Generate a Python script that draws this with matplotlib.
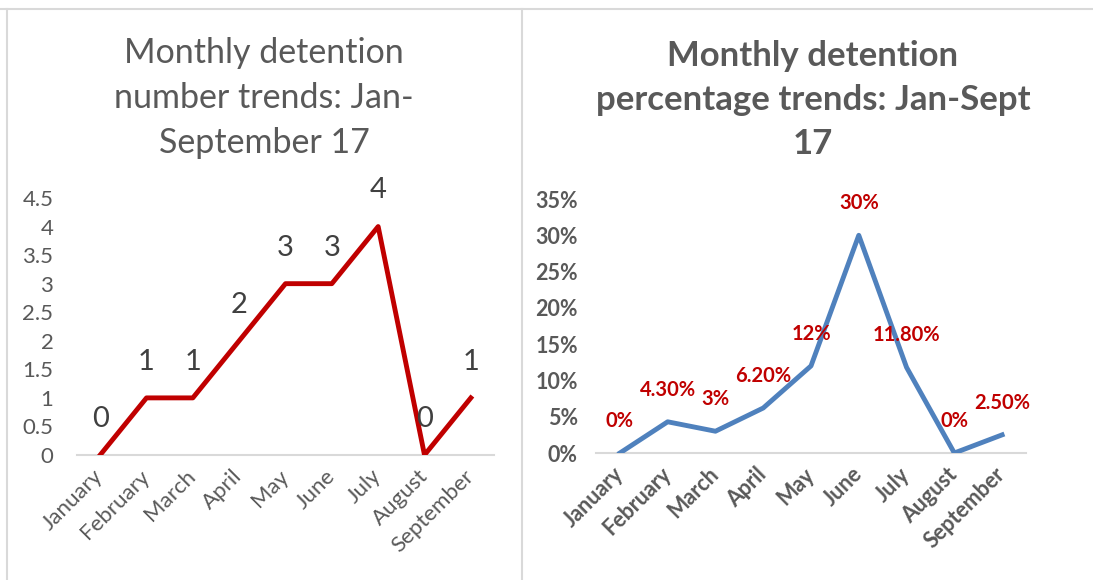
import matplotlib
matplotlib.use('Agg')
import matplotlib.pyplot as plt
from matplotlib.lines import Line2D
from matplotlib.ticker import FuncFormatter

plt.rcParams['font.family'] = ['Lato', 'DejaVu Sans']

months = ['January', 'February', 'March', 'April', 'May', 'June', 'July', 'August', 'September']
counts = [0, 1, 1, 2, 3, 3, 4, 0, 1]
percents = [0, 4.3, 3, 6.2, 12, 30, 11.8, 0, 2.5]
percent_labels = ['0%', '4.30%', '3%', '6.20%', '12%', '30%', '11.80%', '0%', '2.50%']
count_ticks = [0, 0.5, 1, 1.5, 2, 2.5, 3, 3.5, 4, 4.5]
percent_ticks = [0, 5, 10, 15, 20, 25, 30, 35]

grey = '#595959'
red = '#C00000'
blue = '#4F81BD'
border = '#D9D9D9'

fig = plt.figure(figsize=(10.93, 5.8), dpi=100)

# chart borders
fig.add_artist(Line2D([0, 1], [1 - 9 / 580, 1 - 9 / 580], color=border, lw=1.5))
fig.add_artist(Line2D([7 / 1093, 7 / 1093], [0, 1 - 9 / 580], color=border, lw=1.5))
fig.add_artist(Line2D([522 / 1093, 522 / 1093], [0, 1 - 9 / 580], color=border, lw=1.5))

x = list(range(len(months)))

# left chart
ax1 = fig.add_axes([77 / 1093, 1 - 455 / 580, 417 / 1093, 257 / 580])
ax1.plot(x, counts, color=red, lw=3.5)
for i, v in enumerate(counts):
    ax1.annotate(str(v), (i, v), xytext=(0, 26), textcoords='offset points',
                 ha='center', va='center', fontsize=21, color='#404040')
ax1.set_xlim(-0.5, len(months) - 0.5)
ax1.set_ylim(0, 4.5)
ax1.set_yticks(count_ticks)
ax1.set_yticklabels([('%g' % t) for t in count_ticks])
ax1.set_xticks(x)
ax1.set_xticklabels(months, rotation=45, ha='right', va='center', rotation_mode='anchor')
ax1.tick_params(axis='both', length=0, colors=grey, labelsize=16)
ax1.tick_params(axis='x', pad=13)
ax1.tick_params(axis='y', pad=17)
for s in ['top', 'right', 'left']:
    ax1.spines[s].set_visible(False)
ax1.spines['bottom'].set_color(border)
ax1.spines['bottom'].set_linewidth(1.5)
ax1.spines['bottom'].set_zorder(0)
fig.text(264 / 1093, 1 - 98 / 580, 'Monthly detention\nnumber trends: Jan-\nSeptember 17',
         ha='center', va='center', fontsize=24.5, color=grey, linespacing=1.5)

# right chart
ax2 = fig.add_axes([596 / 1093, 1 - 453 / 580, 430 / 1093, 254 / 580])
ax2.plot(x, percents, color=blue, lw=3.5)
for i, v in enumerate(percents):
    ax2.annotate(percent_labels[i], (i, v), xytext=(0, 23), textcoords='offset points',
                 ha='center', va='center', fontsize=14.5, color=red, fontweight='bold')
ax2.set_xlim(-0.5, len(months) - 0.5)
ax2.set_ylim(0, 35)
ax2.set_yticks(percent_ticks)
ax2.yaxis.set_major_formatter(FuncFormatter(lambda v, p: '%d%%' % v))
ax2.set_xticks(x)
ax2.set_xticklabels(months, rotation=45, ha='right', va='center', rotation_mode='anchor',
                    fontweight='bold')
for t in ax2.get_yticklabels():
    t.set_fontweight('bold')
ax2.tick_params(axis='both', length=0, colors=grey, labelsize=15.5)
ax2.tick_params(axis='x', pad=13)
ax2.tick_params(axis='y', pad=13)
for s in ['top', 'right', 'left']:
    ax2.spines[s].set_visible(False)
ax2.spines['bottom'].set_color(border)
ax2.spines['bottom'].set_linewidth(1.5)
ax2.spines['bottom'].set_zorder(0)
fig.text(813 / 1093, 1 - 100 / 580, 'Monthly detention\npercentage trends: Jan-Sept\n17',
         ha='center', va='center', fontsize=25, color=grey, fontweight='bold', linespacing=1.45)

fig.savefig('out.png', dpi=100)
